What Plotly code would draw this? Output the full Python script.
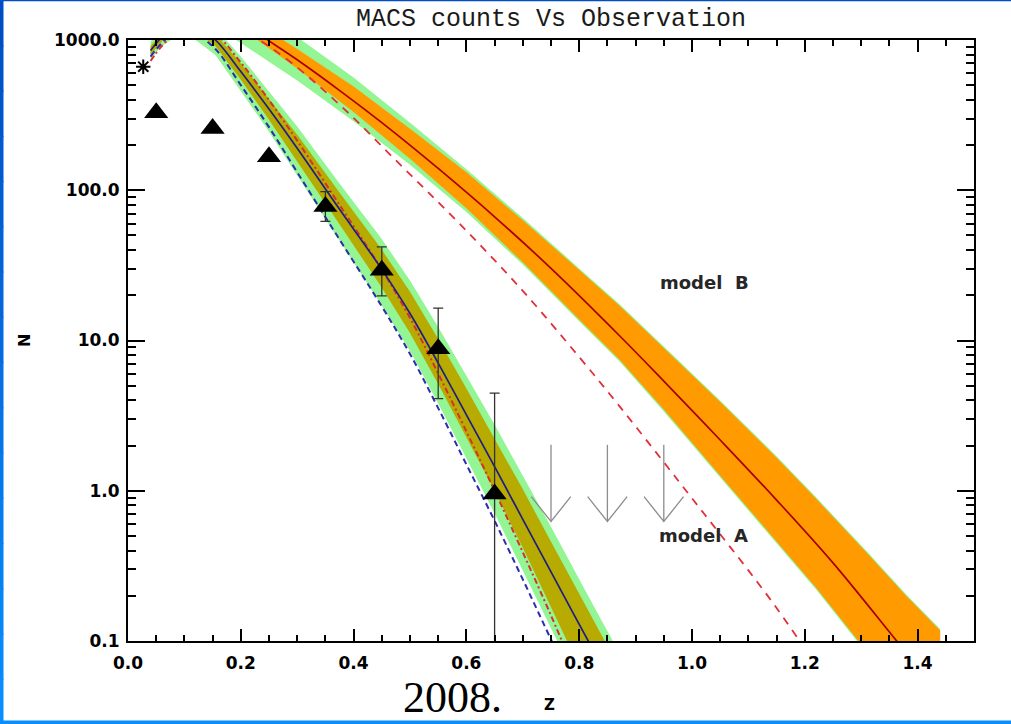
import plotly.graph_objects as go

# ---------------- observed counts ----------------
obs_z = [0.05, 0.15, 0.25, 0.35, 0.45, 0.55, 0.65]
obs_n = [328, 258, 167, 78, 29.4, 8.8, 0.95]
obs_hi = [328, 258, 167, 98, 42, 16.4, 4.46]
obs_lo = [328, 258, 167, 62, 19.8, 4.1, 0.02]

star_z = [0.027]
star_n = [664]

# upper limits (no detections)
lim_z = [0.75, 0.85, 0.95]
lim_n = [2.02, 2.02, 2.02]

# ---------------- model A (log10 N) ----------------
a_z = [0.04, 0.06, 0.08, 0.10, 0.12, 0.155, 0.20, 0.25, 0.30, 0.372, 0.447,
       0.50, 0.55, 0.60, 0.65, 0.70, 0.75, 0.816, 0.88]
a_mid = [2.93, 3.02, 3.08, 3.11, 3.09, 3.00, 2.79, 2.54, 2.28, 1.89, 1.49,
         1.18, 0.85, 0.505, 0.16, -0.19, -0.54, -1.0, -1.44]
a_green_up = [2.99, 3.08, 3.14, 3.18, 3.16, 3.08, 2.89, 2.66, 2.425, 2.06, 1.69,
              1.40, 1.09, 0.765, 0.44, 0.10, -0.24, -0.70, -1.14]
a_olive_up = [2.96, 3.05, 3.11, 3.14, 3.12, 3.04, 2.845, 2.61, 2.37, 2.00, 1.62,
              1.325, 1.01, 0.68, 0.35, 0.01, -0.34, -0.80, -1.24]

a_z_lo = [0.04, 0.06, 0.08, 0.10, 0.12, 0.155, 0.20, 0.25, 0.30, 0.372, 0.447,
          0.50, 0.55, 0.60, 0.65, 0.70, 0.75, 0.80]
a_green_lo = [2.87, 2.96, 3.01, 3.03, 3.00, 2.90, 2.66, 2.39, 2.10, 1.68, 1.25,
              0.93, 0.58, 0.215, -0.15, -0.53, -0.91, -1.30]
a_olive_lo = [2.90, 2.99, 3.05, 3.08, 3.06, 2.96, 2.735, 2.47, 2.19, 1.79, 1.37,
              1.05, 0.71, 0.355, 0.0, -0.38, -0.77, -1.17]

a_z_alt = [0.04, 0.06, 0.08, 0.10, 0.12, 0.155, 0.20, 0.25, 0.30, 0.372, 0.447,
           0.50, 0.55, 0.60, 0.65, 0.70, 0.75, 0.785]
a_blue_dash = [2.89, 2.98, 3.04, 3.06, 3.04, 2.94, 2.70, 2.42, 2.12, 1.69, 1.245,
               0.91, 0.55, 0.175, -0.20, -0.59, -0.99, -1.27]
a_red_dashdot = [2.86, 2.96, 3.03, 3.08, 3.09, 3.04, 2.85, 2.60, 2.33, 1.92, 1.49,
                 1.15, 0.78, 0.395, 0.0, -0.41, -0.83, -1.14]

# ---------------- model B (log10 N) ----------------
b_z = [0.10, 0.15, 0.20, 0.248, 0.305, 0.373, 0.45, 0.55, 0.654, 0.75, 0.872,
       0.95, 1.05, 1.15, 1.25, 1.363, 1.40]
b_mid = [3.38, 3.27, 3.13, 3.0, 2.855, 2.67, 2.45, 2.145, 1.81, 1.48, 1.03,
         0.73, 0.338, -0.062, -0.48, -1.0, -1.17]

b_z_up = [0.10, 0.20, 0.30, 0.40, 0.50, 0.60, 0.70, 0.80, 0.872, 0.95, 1.05,
          1.15, 1.218, 1.309, 1.38, 1.44]
b_orange_up = [3.42, 3.18, 2.94, 2.69, 2.41, 2.12, 1.80, 1.47, 1.23, 0.95, 0.59,
               0.22, -0.045, -0.41, -0.70, -0.93]
b_green_up = [3.54, 3.28, 3.02, 2.75, 2.45, 2.14, 1.815, 1.48, 1.24, 0.96, 0.60,
              0.23, -0.035, -0.40, -0.69, -0.92]

b_z_lo = [0.10, 0.20, 0.30, 0.40, 0.50, 0.60, 0.70, 0.80, 0.872, 0.95, 1.05,
          1.15, 1.22, 1.295, 1.34, 1.44]
b_orange_lo = [3.34, 3.08, 2.81, 2.52, 2.21, 1.88, 1.52, 1.14, 0.87, 0.54, 0.10,
               -0.34, -0.645, -1.0, -1.19, -1.70]
b_green_lo = [3.22, 2.98, 2.73, 2.46, 2.17, 1.855, 1.505, 1.128, 0.858, 0.528, 0.088,
              -0.352, -0.657, -1.012, -1.20, -1.71]

b_z_dash = [0.10, 0.20, 0.284, 0.379, 0.48, 0.582, 0.70, 0.80, 0.872, 0.95, 1.00,
            1.05, 1.10, 1.15, 1.191, 1.22]
b_dash = [3.30, 3.08, 2.865, 2.556, 2.18, 1.80, 1.33, 0.89, 0.56, 0.19, -0.05,
          -0.29, -0.53, -0.78, -1.0, -1.15]

x_ticks = [0.0, 0.2, 0.4, 0.6, 0.8, 1.0, 1.2, 1.4]
y_ticks = [0.1, 1, 10, 100, 1000]
y_tick_text = ["0.1", "1.0", "10.0", "100.0", "1000.0"]


def lin(vals):
    return [10 ** v for v in vals]


def add_band(fig, z_up, up, z_lo, lo, color):
    # closed polygon: upper edge left->right, lower edge right->left
    xs = list(z_up) + list(reversed(z_lo))
    ys = lin(up) + list(reversed(lin(lo)))
    fig.add_trace(go.Scatter(x=xs, y=ys, fill="toself", mode="lines",
                             fillcolor=color, line=dict(width=0),
                             hoverinfo="skip"))


fig = go.Figure()

# model B bands
add_band(fig, b_z_up, b_green_up, b_z_lo, b_green_lo, "#93F593")
add_band(fig, b_z_up, b_orange_up, b_z_lo, b_orange_lo, "#FF9A00")

# model A bands
add_band(fig, a_z, a_green_up, a_z_lo, a_green_lo, "#93F593")
add_band(fig, a_z, a_olive_up, a_z_lo, a_olive_lo, "#B7AA00")

# model curves
fig.add_trace(go.Scatter(x=a_z_alt, y=lin(a_blue_dash), mode="lines",
                         line=dict(color="#2C2CB0", width=2, dash="6px,4px", shape="spline")))
fig.add_trace(go.Scatter(x=a_z_alt, y=lin(a_red_dashdot), mode="lines",
                         line=dict(color="#D83030", width=2, dash="6px,3px,2px,3px", shape="spline")))
fig.add_trace(go.Scatter(x=a_z, y=lin(a_mid), mode="lines",
                         line=dict(color="#1E1E86", width=1.7, shape="spline")))
fig.add_trace(go.Scatter(x=b_z_dash, y=lin(b_dash), mode="lines",
                         line=dict(color="#E0303C", width=1.8, dash="8px,7px", shape="spline")))
fig.add_trace(go.Scatter(x=b_z, y=lin(b_mid), mode="lines",
                         line=dict(color="#A80000", width=1.7, shape="spline")))

# upper-limit arrows
arrow_len = 0.51   # decades
head_len = 0.165   # decades
head_half = 0.035  # in z
ax, ay = [], []
for z, n in zip(lim_z, lim_n):
    tip = n * 10 ** (-arrow_len)
    arm = tip * 10 ** head_len
    ax += [z, z, None, z - head_half, z, z + head_half, None]
    ay += [n, tip, None, arm, tip, arm, None]
fig.add_trace(go.Scatter(x=ax, y=ay, mode="lines",
                         line=dict(color="#8C8C8C", width=1.3), hoverinfo="skip"))

# observed points with error bars
fig.add_trace(go.Scatter(
    x=obs_z, y=obs_n, mode="markers",
    marker=dict(symbol="triangle-up", size=21, color="black"),
    error_y=dict(type="data", symmetric=False,
                 array=[h - n for h, n in zip(obs_hi, obs_n)],
                 arrayminus=[n - l for n, l in zip(obs_n, obs_lo)],
                 color="#333333", thickness=1.3, width=5),
))
fig.add_trace(go.Scatter(
    x=star_z, y=star_n, mode="markers",
    marker=dict(symbol="asterisk-open", size=12, color="black",
                line=dict(color="black", width=2)),
))

# border of the page
shapes = []
W, H = 846.0, 601.0
L, B = 128.0, 83.0
top_col = (0, 78, 196)
bot_col = (8, 142, 255)
nseg = 16
for i in range(nseg):
    f = i / (nseg - 1)
    c = tuple(int(top_col[k] + (bot_col[k] - top_col[k]) * f) for k in range(3))
    y1 = (H + 40 - 724 * i / nseg) / H
    y0 = (H + 40 - 724 * (i + 1) / nseg) / H
    shapes.append(dict(type="rect", xref="paper", yref="paper",
                       x0=-L / W, x1=(-L + 3.5) / W, y0=y0 - 0.002, y1=y1,
                       fillcolor="rgb(%d,%d,%d)" % c, line=dict(width=0), layer="above"))
shapes.append(dict(type="rect", xref="paper", yref="paper",
                   x0=-L / W, x1=(1011 - L) / W, y0=(H + 40 - 1.2) / H, y1=(H + 40) / H,
                   fillcolor="rgb(0,78,196)", line=dict(width=0), layer="above"))
shapes.append(dict(type="rect", xref="paper", yref="paper",
                   x0=-L / W, x1=(1011 - L) / W, y0=-B / H, y1=(-B + 3.5) / H,
                   fillcolor="rgb(8,142,255)", line=dict(width=0), layer="above"))

tick_font = dict(family="DejaVu Sans", size=17, color="black", weight="bold")
label_font = dict(family="DejaVu Sans", size=18, color="#262626", weight="bold")

annotations = [
    dict(x=1.023, y=1.383, xref="x", yref="y", text="model  B", showarrow=False,
         xanchor="center", yanchor="middle", font=label_font),
    dict(x=1.021, y=-0.301, xref="x", yref="y", text="model  A", showarrow=False,
         xanchor="center", yanchor="middle", font=label_font),
    dict(x=(549 - L) / W, y=(641 - 705) / H, xref="paper", yref="paper", text="Z",
         xanchor="center", yanchor="middle", showarrow=False,
         font=dict(family="DejaVu Sans", size=15, color="black", weight="bold")),
    dict(x=(24 - L) / W, y=(641 - 341) / H, xref="paper", yref="paper", text="N",
         xanchor="center", yanchor="middle", textangle=-90, showarrow=False,
         font=dict(family="DejaVu Sans", size=16, color="black", weight="bold")),
    dict(x=(452 - L) / W, y=(641 - 697) / H, xref="paper", yref="paper", text="2008.",
         xanchor="center", yanchor="middle", showarrow=False, borderpad=0,
         font=dict(family="Liberation Serif", size=44, color="black")),
]

fig.update_layout(
    width=1011, height=724,
    margin=dict(l=128, r=37, t=40, b=83),
    paper_bgcolor="white", plot_bgcolor="white",
    showlegend=False,
    title=dict(text="MACS counts Vs Observation", x=0.5, xref="paper", xanchor="center",
               y=1 - 17 / 724, yref="container", yanchor="middle",
               font=dict(family="Liberation Mono", size=25, color="#1a1a1a")),
    shapes=shapes,
    annotations=annotations,
    xaxis=dict(range=[0, 1.5], tickvals=x_ticks, tickformat=".1f",
               ticks="inside", ticklen=12, tickwidth=2, tickcolor="black",
               showline=True, linewidth=2, linecolor="black", mirror="allticks",
               showgrid=False, zeroline=False, tickfont=tick_font,
               ticklabelstandoff=6,
               minor=dict(dtick=0.05, tick0=0, ticks="inside", ticklen=6,
                          tickwidth=1.5, tickcolor="black", showgrid=False)),
    yaxis=dict(type="log", range=[-1, 3], tickvals=y_ticks, ticktext=y_tick_text,
               ticks="inside", ticklen=17, tickwidth=2, tickcolor="black",
               showline=True, linewidth=2, linecolor="black", mirror="allticks",
               showgrid=False, zeroline=False, tickfont=tick_font,
               ticklabelstandoff=3,
               minor=dict(tickvals=[k * 10 ** e for e in range(-1, 3) for k in range(2, 10)],
                          ticks="inside", ticklen=8, tickwidth=1.5, tickcolor="black",
                          showgrid=False)),
)

fig.write_html("out.html")
